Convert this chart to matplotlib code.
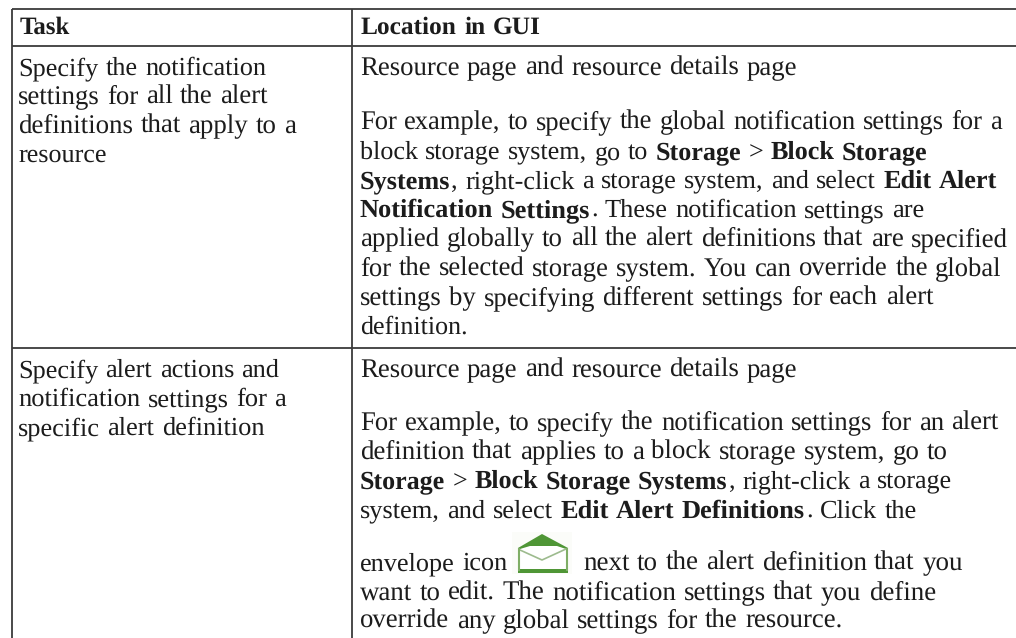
#!/usr/bin/env python3
"""Task / Location in GUI table, drawn as text and rules on a pixel-sized axes."""

import matplotlib
matplotlib.use("Agg")
import matplotlib.pyplot as plt
from matplotlib.patches import Polygon, Rectangle

plt.rcParams["text.hinting"] = "none"
plt.rcParams["text.hinting_factor"] = 8

FONT = "Liberation Serif"
FONT_SIZE = 19.2
TEXT_COLOR = "#1c1c1c"
RULE_COLOR = "#3a3a3a"

header_task = "Task"
header_location = "Location in GUI"

task_row1 = [
    "Specify the notification",
    "settings for all the alert",
    "definitions that apply to a",
    "resource",
]
task_row2 = [
    "Specify alert actions and",
    "notification settings for a",
    "specific alert definition",
]

# **word** marks bold runs
location_row1 = [
    "Resource page and resource details page",
    "For example, to specify the global notification settings for a",
    "block storage system, go to **Storage** > **Block Storage**",
    "**Systems**, right-click a storage system, and select **Edit Alert**",
    "**Notification Settings**. These notification settings are",
    "applied globally to all the alert definitions that are specified",
    "for the selected storage system. You can override the global",
    "settings by specifying different settings for each alert",
    "definition.",
]
location_row2 = [
    "Resource page and resource details page",
    "For example, to specify the notification settings for an alert",
    "definition that applies to a block storage system, go to",
    "**Storage** > **Block Storage Systems**, right-click a storage",
    "system, and select **Edit Alert Definitions**. Click the",
    "envelope icon",
    "want to edit. The notification settings that you define",
    "override any global settings for the resource.",
]
envelope_tail = "next to the alert definition that you"

# baselines and right ends of each line, in pixels
task_row1_y = [75, 104, 133, 162]
task_row1_end = [267, 268, 297, 107]
task_row2_y = [377, 406, 435]
task_row2_end = [280, 286, 265]
location_row1_y = [75, 129, 159, 188, 217, 246, 276, 305, 334]
location_row1_end = [798, 1002, 927, 997, 924, 1007, 1003, 932, 468]
location_row2_y = [377, 430, 459, 488, 518, 570, 600, 628]
location_row2_end = [798, 998, 947, 951, 916, 508, 936, 843]

fig = plt.figure(figsize=(10.16, 6.38), dpi=100)
ax = fig.add_axes([0, 0, 1, 1])
ax.set_xlim(0, 1016)
ax.set_ylim(638, 0)
ax.axis("off")
renderer = fig.canvas.get_renderer()


def text_width(s, weight, size):
    t = ax.text(0, 0, s, fontsize=size, family=FONT, weight=weight)
    w = t.get_window_extent(renderer).width
    t.remove()
    return w


def layout(x, line, size):
    """Place the words of a line with **bold** runs, returns them and the end x."""
    space = text_width("a a", "normal", size) - text_width("aa", "normal", size)
    words = []
    for i, part in enumerate(line.split("**")):
        if not part:
            continue
        weight = "bold" if i % 2 else "normal"
        if part[0] == " ":
            x += space
        for j, word in enumerate(part.split()):
            if j:
                x += space
            words.append((x, word, weight))
            x += text_width(word, weight, size) + 0.8
        if part[-1] == " ":
            x += space
    return words, x


def draw_line(x, y, line, end):
    """Draw a line, with the font size nudged so that it stops at end."""
    _, natural_end = layout(x, line, FONT_SIZE)
    size = FONT_SIZE * (end - x) / (natural_end - x)
    words, _ = layout(x, line, size)
    for word_x, word, weight in words:
        ax.text(word_x, y, word, fontsize=size, family=FONT, weight=weight,
                color=TEXT_COLOR, va="baseline", ha="left")


def draw_envelope():
    # pixel outline
    ax.add_patch(Rectangle((512, 532), 60, 42, fc="#fbfcf9", ec="none"))
    ax.add_patch(Polygon([(518, 548), (542, 534), (568, 548), (568, 573), (518, 573)],
                         fc="#4f9636", ec="none"))
    ax.add_patch(Rectangle((520, 549), 46, 20, fc="white", ec="none"))
    ax.add_patch(Polygon([(530, 546), (557, 546), (566, 549), (542, 560), (520, 549)],
                         fc="white", ec="none"))
    ax.plot([520, 542, 566], [550, 560, 549], color="#9dbb8e", lw=1.2)
    ax.plot([519, 519], [549, 570], color="#7fae66", lw=1.5)
    ax.plot([567, 567], [549, 570], color="#7fae66", lw=1.5)


# rules
for y in [9, 46, 348]:
    ax.plot([12, 1016], [y, y], color=RULE_COLOR, lw=1.3, solid_capstyle="butt")
for x in [12, 352]:
    ax.plot([x, x], [9, 638], color=RULE_COLOR, lw=1.3, solid_capstyle="butt")

draw_line(20, 34, "**" + header_task + "**", 71)
draw_line(361, 34, "**" + header_location + "**", 541)

for line, y, end in zip(task_row1, task_row1_y, task_row1_end):
    draw_line(18, y, line, end)
for line, y, end in zip(task_row2, task_row2_y, task_row2_end):
    draw_line(18, y, line, end)
for line, y, end in zip(location_row1, location_row1_y, location_row1_end):
    draw_line(360, y, line, end)
for line, y, end in zip(location_row2, location_row2_y, location_row2_end):
    draw_line(360, y, line, end)
    if line == "envelope icon":
        draw_envelope()
        draw_line(583, y, envelope_tail, 963)

fig.savefig("out.png", dpi=100)
